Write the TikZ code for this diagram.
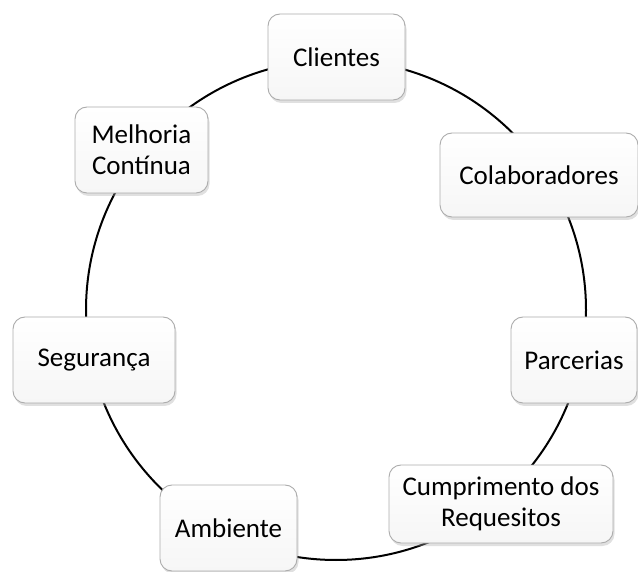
\documentclass[tikz,border=0pt]{standalone}
\usepackage{fontspec}
\setmainfont{Carlito}
\usetikzlibrary{shadows}
\tikzset{
  box/.style={draw=gray!65, line width=0.9pt, rounded corners=12pt,
    top color=white, bottom color=gray!7, align=center,
    inner sep=0pt, font=\fontsize{27}{31}\selectfont,
    drop shadow={opacity=0.35, shadow xshift=1.5pt, shadow yshift=-3pt, fill=gray!70}},
  ring/.style={line width=2pt, black}
}
\begin{document}
\begin{tikzpicture}[x=1pt,y=1pt]
\useasboundingbox (0,0) rectangle (638,-572);
\coordinate (ctr) at (336,-310);
\draw[ring] (ctr) circle (250);
\node[box, minimum width=137, minimum height=86] (cli) at (336.5,-57) {Clientes};
\node[box, minimum width=198, minimum height=84] (col) at (539,-175) {Colaboradores};
\node[box, minimum width=126, minimum height=86] (par) at (574,-360) {Parcerias};
\node[box, minimum width=224, minimum height=78] (cum) at (501,-504) {Cumprimento dos\\Requesitos};
\node[box, minimum width=137, minimum height=86] (amb) at (228.5,-528) {Ambiente};
\node[box, minimum width=162, minimum height=86] (seg) at (94,-360) {Segurança};
\node[box, minimum width=133, minimum height=86] (mel) at (141.5,-150) {Melhoria\\Contínua};
\end{tikzpicture}
\end{document}
